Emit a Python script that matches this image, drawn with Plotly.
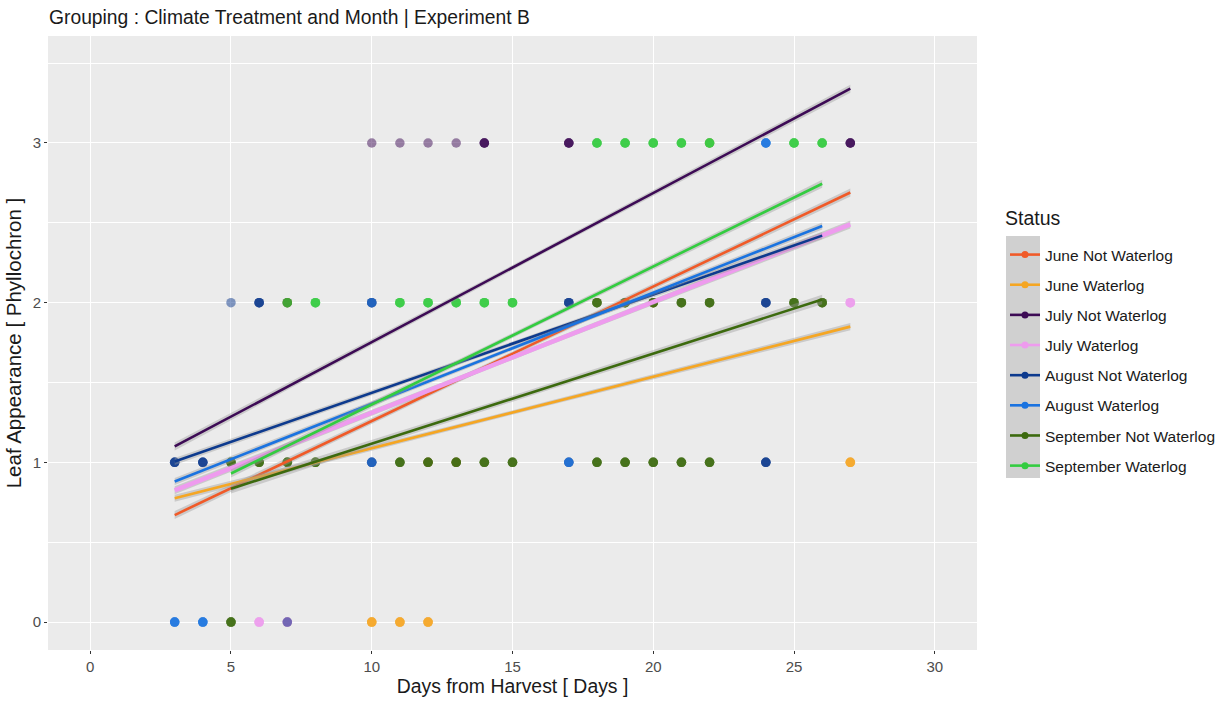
import numpy as np
import plotly.graph_objects as go

# Treatment groups (legend order) and their colours
status = [
    "June Not Waterlog", "June Waterlog",
    "July Not Waterlog", "July Waterlog",
    "August Not Waterlog", "August Waterlog",
    "September Not Waterlog", "September Waterlog",
]
colors = [
    "#F05A28", "#F5A623",
    "#3D0B55", "#EE9BEE",
    "#0D3A8E", "#1A73E0",
    "#3C6A0E", "#33CC40",
]

# Observations in long format: group, day, leaf count, number of replicates
obs_status = (
    ["June Not Waterlog"] * 4
    + ["June Waterlog"] * 4
    + ["July Not Waterlog"] * 8
    + ["July Waterlog"] * 3
    + ["August Not Waterlog"] * 11
    + ["August Waterlog"] * 6
    + ["September Not Waterlog"] * 23
    + ["September Waterlog"] * 15
)
obs_day = (
    [12, 13, 20, 22]
    + [27, 10, 11, 12]
    + [10, 11, 12, 13, 14, 17, 27, 7]
    + [27, 6, 7]
    + [5, 6, 10, 17, 24, 3, 4, 10, 17, 24, 7]
    + [24, 10, 10, 17, 3, 4]
    + [7, 18, 19, 20, 21, 22, 25, 26, 5, 6, 7, 8, 11, 12, 13, 14, 15, 18, 19, 20, 21, 22, 5]
    + [18, 19, 20, 21, 22, 25, 26, 7, 8, 11, 12, 13, 14, 15, 24]
)
obs_leaf = (
    [1, 1, 2, 3]
    + [1, 0, 0, 0]
    + [3, 3, 3, 3, 3, 3, 3, 0]
    + [2, 0, 0]
    + [2, 2, 2, 2, 2, 1, 1, 1, 1, 1, 0]
    + [3, 2, 1, 1, 0, 0]
    + [2, 2, 2, 2, 2, 2, 2, 2, 1, 1, 1, 1, 1, 1, 1, 1, 1, 1, 1, 1, 1, 1, 0]
    + [3, 3, 3, 3, 3, 3, 3, 2, 2, 2, 2, 2, 2, 2, 1]
)
obs_n = (
    [1, 1, 1, 1]
    + [4, 4, 4, 4]
    + [1, 1, 1, 1, 4, 4, 4, 1]
    + [4, 4, 2]
    + [1, 4, 3, 4, 4, 4, 4, 3, 2, 4, 1]
    + [4, 1, 1, 2, 4, 4]
    + [3, 4, 4, 4, 4, 4, 4, 4, 4, 4, 4, 4, 4, 4, 4, 4, 4, 4, 4, 4, 4, 4, 4]
    + [4, 4, 4, 4, 4, 4, 4, 1, 4, 4, 4, 4, 4, 4, 0]
)

# Linear fits (lm) per group: start/end day and fitted values, with CI half-width at the ends
fit_x0 = [3, 3, 3, 3, 3, 3, 5, 5]
fit_x1 = [27, 27, 27, 27, 26, 26, 26, 26]
fit_y0 = [0.67, 0.775, 1.10, 0.825, 1.005, 0.88, 0.835, 0.93]
fit_y1 = [2.69, 1.85, 3.34, 2.49, 2.42, 2.48, 2.02, 2.745]
fit_se_end = [0.025, 0.022, 0.025, 0.025, 0.022, 0.022, 0.03, 0.025]

fig = go.Figure()

# Raw observations (semi-transparent, replicates stack up)
for name, col in zip(status, colors):
    xs, ys = [], []
    for s, d, v, n in zip(obs_status, obs_day, obs_leaf, obs_n):
        if s == name:
            xs += [d] * n
            ys += [v] * n
    fig.add_trace(go.Scatter(
        x=xs, y=ys, mode="markers",
        marker=dict(color=col, size=9.5, opacity=0.5, line=dict(width=0)),
        showlegend=False, hoverinfo="skip",
    ))

# Fitted lines with grey confidence ribbons
for i, (name, col) in enumerate(zip(status, colors)):
    x0, x1 = fit_x0[i], fit_x1[i]
    xg = np.linspace(x0, x1, 40)
    yg = fit_y0[i] + (fit_y1[i] - fit_y0[i]) * (xg - x0) / (x1 - x0)
    u = (xg - (x0 + x1) / 2) / (x1 - x0)
    hw = fit_se_end[i] * np.sqrt(0.15 + u ** 2) / np.sqrt(0.15 + 0.25)
    fig.add_trace(go.Scatter(
        x=np.concatenate([xg, xg[::-1]]),
        y=np.concatenate([yg + hw, (yg - hw)[::-1]]),
        fill="toself", fillcolor="rgba(153,153,153,0.4)",
        line=dict(width=0), mode="lines",
        showlegend=False, hoverinfo="skip",
    ))
    fig.add_trace(go.Scatter(
        x=[x0, x1], y=[fit_y0[i], fit_y1[i]], mode="lines",
        line=dict(color=col, width=4.5 if name == "July Waterlog" else 2.6),
        showlegend=False, hoverinfo="skip",
    ))

# Legend entries (line + point keys)
for name, col in zip(status, colors):
    fig.add_trace(go.Scatter(
        x=[None], y=[None], mode="lines+markers", name=name,
        line=dict(color=col, width=2.6),
        marker=dict(color=col, size=7),
        legendgroup=name,
    ))

W, H = 1226, 702
PW, PH = 929, 614  # plot panel size in px

fig.update_layout(
    width=W, height=H,
    margin=dict(l=48, r=249, t=36, b=52, autoexpand=False),
    paper_bgcolor="white",
    plot_bgcolor="#EBEBEB",
    font=dict(family="Liberation Sans, Arial, sans-serif", color="#1A1A1A"),
    title=dict(
        text="Grouping : Climate Treatment and Month | Experiment B",
        x=49 / W, xref="container", xanchor="left",
        y=1 - 17 / H, yref="container", yanchor="middle",
        font=dict(size=19.3, color="#1A1A1A"),
    ),
    legend=dict(
        font=dict(size=15.5, color="#1A1A1A"),
        x=(1005 - 48) / PW, xanchor="left",
        y=(650 - 238) / PH, yanchor="top",
        bgcolor="rgba(0,0,0,0)",
        tracegroupgap=7,
        itemwidth=30,
    ),
    annotations=[dict(
        text="Status", xref="paper", yref="paper",
        x=(1003 - 48) / PW, xanchor="left",
        y=(650 - 218) / PH, yanchor="middle",
        showarrow=False, font=dict(size=19.5, color="#1A1A1A"),
    )],
    shapes=[dict(
        type="rect", xref="paper", yref="paper",
        x0=(1006 - 48) / PW, x1=(1040 - 48) / PW,
        y0=(650 - 478) / PH, y1=(650 - 236) / PH,
        fillcolor="#D0D0D0", line=dict(width=0), layer="below",
    )],
)

fig.update_xaxes(
    range=[-1.5, 31.5], tickvals=[0, 5, 10, 15, 20, 25, 30],
    showgrid=True, gridcolor="white", gridwidth=1.3,
    zeroline=False, showline=False,
    ticks="outside", ticklen=3, tickcolor="#333333",
    tickfont=dict(size=15, color="#4D4D4D"),
    title=dict(text="Days from Harvest [ Days ]", font=dict(size=19.4, color="#1A1A1A"), standoff=3),
)
fig.update_yaxes(
    range=[-0.175, 3.67], tickvals=[0, 1, 2, 3],
    showgrid=True, gridcolor="white", gridwidth=1.3,
    minor=dict(dtick=0.5, tick0=0, showgrid=True, gridcolor="white", gridwidth=0.6),
    zeroline=False, showline=False,
    ticks="outside", ticklen=3, tickcolor="#333333",
    tickfont=dict(size=15, color="#4D4D4D"),
    title=dict(text="Leaf Appearance [ Phyllochron ]", font=dict(size=20.5, color="#1A1A1A"), standoff=5),
)

fig.write_html("out.html")
